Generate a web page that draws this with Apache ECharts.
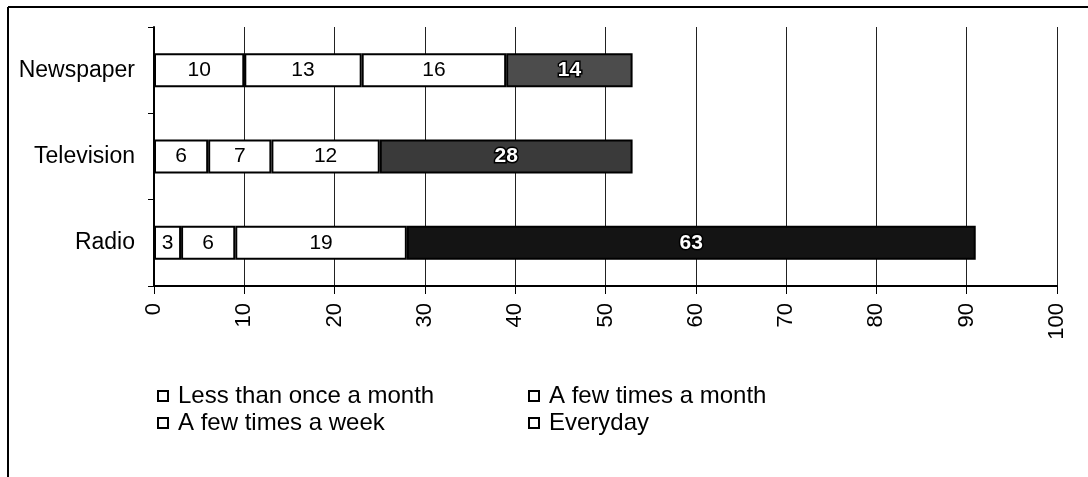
<!DOCTYPE html>
<html>
<head>
<meta charset="utf-8">
<script src="https://cdn.jsdelivr.net/npm/echarts@6/dist/echarts.min.js"></script>
<style>
  html, body { margin: 0; padding: 0; background: #fff; }
  #chart { width: 1088px; height: 477px; }
</style>
</head>
<body>
<div id="chart"></div>
<script>
// Media categories, listed bottom to top
const categories = ['Radio', 'Television', 'Newspaper'];

// How often each medium is used
const lessThanMonthly = [3, 6, 10];
const fewTimesMonth = [6, 7, 13];
const fewTimesWeek = [19, 12, 16];
const everyday = [63, 28, 14];

const seriesNames = ['Less than once a month', 'A few times a month', 'A few times a week', 'Everyday'];
const xTicks = [0, 10, 20, 30, 40, 50, 60, 70, 80, 90, 100];

// Dark fill of the "Everyday" segment per row
const everydayFills = ['#141414', '#3a3a3a', '#4c4c4c'];

const FONT = '"Liberation Sans", Arial, sans-serif';

const chart = echarts.init(document.getElementById('chart'));

const whiteSeries = (name, values) => ({
  name,
  type: 'bar',
  stack: 'total',
  barWidth: 34,
  data: values,
  itemStyle: { color: '#ffffff', borderColor: '#000', borderWidth: 2 },
  label: {
    show: true,
    position: 'inside',
    color: '#000',
    fontSize: 21,
    fontFamily: FONT
  }
});

const legendItem = (name) => ({
  name,
  icon: 'rect',
  itemStyle: { color: '#fff', borderColor: '#000', borderWidth: 2 }
});

const legendBase = {
  top: 379,
  orient: 'vertical',
  itemGap: 3,
  itemWidth: 10,
  itemHeight: 10,
  selectedMode: false,
  textStyle: { fontSize: 24, color: '#000', fontFamily: FONT, padding: [0, 0, 0, 5] }
};

chart.setOption({
  animation: false,
  backgroundColor: '#fff',
  textStyle: { fontFamily: FONT, color: '#000' },
  grid: { left: 154, right: 31, top: 27, bottom: 191, containLabel: false },
  xAxis: {
    type: 'value',
    min: xTicks[0],
    max: xTicks[xTicks.length - 1],
    interval: 10,
    axisLine: { show: true, lineStyle: { color: '#000', width: 2 } },
    axisTick: { show: true, length: 8, lineStyle: { color: '#000', width: 1 } },
    splitLine: { show: true, lineStyle: { color: '#222', width: 1 } },
    axisLabel: {
      rotate: 90,
      margin: 17,
      color: '#000',
      fontSize: 22,
      fontFamily: FONT,
      formatter: (v) => (xTicks.includes(v) ? String(v) : '')
    }
  },
  yAxis: {
    type: 'category',
    data: categories,
    axisLine: { show: true, lineStyle: { color: '#000', width: 2 } },
    axisTick: { show: true, length: 6, lineStyle: { color: '#000' } },
    axisLabel: { margin: 19, color: '#000', fontSize: 23, fontFamily: FONT }
  },
  legend: [
    Object.assign({}, legendBase, {
      left: 152,
      data: [legendItem(seriesNames[0]), legendItem(seriesNames[2])]
    }),
    Object.assign({}, legendBase, {
      left: 523,
      data: [legendItem(seriesNames[1]), legendItem(seriesNames[3])]
    })
  ],
  series: [
    whiteSeries(seriesNames[0], lessThanMonthly),
    whiteSeries(seriesNames[1], fewTimesMonth),
    whiteSeries(seriesNames[2], fewTimesWeek),
    {
      name: seriesNames[3],
      type: 'bar',
      stack: 'total',
      barWidth: 34,
      data: everyday.map((v, i) => ({ value: v, itemStyle: { color: everydayFills[i] } })),
      itemStyle: { borderColor: '#000', borderWidth: 2 },
      label: {
        show: true,
        position: 'inside',
        color: '#fff',
        fontSize: 21,
        fontWeight: 'bold',
        fontFamily: FONT,
        textBorderColor: '#000',
        textBorderWidth: 3
      }
    }
  ],
  graphic: [
    { type: 'line', shape: { x1: 8, y1: 7, x2: 1088, y2: 7 }, style: { stroke: '#000', lineWidth: 2 } },
    { type: 'line', shape: { x1: 8, y1: 7, x2: 8, y2: 477 }, style: { stroke: '#000', lineWidth: 2 } }
  ]
});
</script>
</body>
</html>
